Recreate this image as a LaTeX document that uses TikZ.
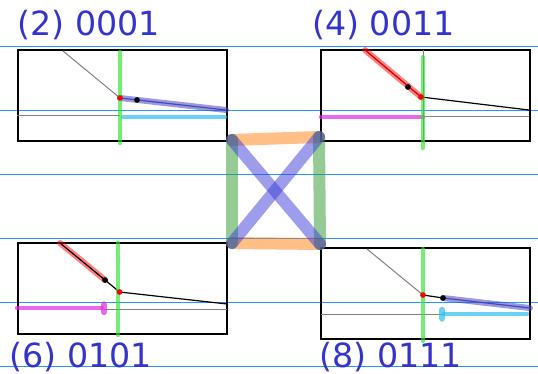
\documentclass[tikz,border=0pt]{standalone}
\usepackage{fontspec}
\setmainfont{DejaVu Sans}
\usetikzlibrary{positioning}

\definecolor{tagblue}{RGB}{52,52,204}
\definecolor{guideblue}{RGB}{40,150,255}
\definecolor{crossorange}{RGB}{255,127,14}
\definecolor{crossgreen}{RGB}{44,150,44}
\definecolor{crossblue}{RGB}{60,60,215}
\definecolor{barlime}{RGB}{40,230,40}
\definecolor{skycyan}{RGB}{40,190,240}
\definecolor{pinkmag}{RGB}{225,40,225}
\definecolor{slateline}{RGB}{70,70,190}

\begin{document}
\begin{tikzpicture}[
    x=1pt, y=-1pt,
    every node/.style = {font=\fontsize{33.3}{37}\selectfont},
    panel/.style   = {rectangle, draw, line width=2pt, inner sep=0pt,
                      minimum width=209pt, minimum height=91pt},
    tag/.style     = {text=tagblue, anchor=base west, inner sep=0pt},
    guide/.style   = {guideblue, line width=0.9pt},
    link/.style    = {line width=12pt, line cap=round, draw opacity=0.5},
    thinline/.style = {gray, line width=1pt},
    darkline/.style = {black, line width=1.2pt},
    gbar/.style    = {barlime, line width=4.5pt, line cap=round, draw opacity=0.65},
    cyanbar/.style = {skycyan, line width=4.5pt, line cap=round, draw opacity=0.7},
    magbar/.style  = {pinkmag, line width=4.5pt, line cap=round, draw opacity=0.7},
    endtick/.style = {line width=6.5pt, line cap=round, draw opacity=0.7},
    redhi/.style   = {red, line width=6pt, line cap=round, draw opacity=0.5},
    bluehi/.style  = {slateline, line width=6pt, line cap=round, draw opacity=0.55},
    reddot/.style  = {circle, fill=red, inner sep=0pt, minimum size=5.5pt},
    blackdot/.style = {circle, fill=black, inner sep=0pt, minimum size=5.5pt}
  ]
  \useasboundingbox (0,0) rectangle (538,374);

  % guide lines
  \foreach \gy in {46,110,174,238,302,366}
    \draw[guide] (0,\gy) -- (538,\gy);

  % panels
  \node[panel] (p2) at (122,95.5) {};
  \node[panel] (p4) at (425,95.5) {};
  \node[panel] (p6) at (122,288.5) {};
  \node[panel] (p8) at (425.5,293) {};

  \node[tag] (t2) at (17.5,36) {(2) 0001};
  \node[tag] (t4) at (312,36) {(4) 0011};
  \node[tag] (t6) at (9.5,367) {(6) 0101};
  \node[tag] (t8) at (319.5,367) {(8) 0111};

  % panel (2)
  \node[reddot] (r2) at (120,98) {};
  \node[blackdot] (k2) at (137,100) {};
  \coordinate (e2) at (226,110);
  \draw[thinline] (63,51) -- (r2.center);
  \draw[thinline] (17,116) -- (120,116);
  \draw[cyanbar] (123,117) -- (225,117);
  \draw[bluehi] (r2.center) -- (e2);
  \draw[slateline, line width=1.2pt] (r2.center) -- (e2);
  \draw[gbar] (120,52) -- (120,143);
  \node[reddot] at (r2) {};
  \node[blackdot] at (k2) {};

  % panel (4)
  \node[reddot] (r4) at (421,97) {};
  \node[blackdot] (k4) at (408,87) {};
  \coordinate (s4) at (365,50);
  \draw[thinline] (423,50) -- (423,141);
  \draw[redhi] (s4) -- (r4.center);
  \draw[red!80!black, line width=1.2pt] (s4) -- (r4.center);
  \draw[darkline] (r4.center) -- (529,110);
  \draw[thinline] (423,117) -- (529,117);
  \draw[magbar] (321,117) -- (423,117);
  \draw[gbar] (423,57) -- (423,148);
  \node[blackdot] at (k4) {};
  \node[reddot] at (r4) {};

  % panel (6)
  \node[reddot] (r6) at (119.5,292) {};
  \node[blackdot] (k6) at (105,280) {};
  \coordinate (s6) at (60,243);
  \draw[redhi] (s6) -- (k6.center);
  \draw[darkline] (s6) -- (k6.center) -- (r6.center) -- (227,304);
  \draw[thinline] (104,309) -- (227,309);
  \draw[magbar] (17,308) -- (102,308);
  \draw[endtick, pinkmag] (104,304.5) -- (104,312);
  \draw[gbar] (118,243) -- (118,335);
  \node[blackdot] at (k6) {};
  \node[reddot] at (r6) {};

  % panel (8)
  \node[reddot] (r8) at (423,295) {};
  \node[blackdot] (k8) at (443,298) {};
  \coordinate (e8) at (530,308);
  \draw[thinline] (367,249) -- (r8.center);
  \draw[darkline] (r8.center) -- (k8.center);
  \draw[bluehi] (k8.center) -- (e8);
  \draw[slateline, line width=1.2pt] (k8.center) -- (e8);
  \draw[thinline] (321,314) -- (442,314);
  \draw[cyanbar] (444,314) -- (527,314);
  \draw[endtick, skycyan] (442,310) -- (442,318.5);
  \draw[gbar] (423,249) -- (423,341);
  \node[reddot] at (r8) {};
  \node[blackdot] at (k8) {};

  % links between panels
  \coordinate (ca) at (232,140);
  \coordinate (cb) at (319,137);
  \coordinate (cc) at (232,243);
  \coordinate (cd) at (320,244);
  \draw[link, crossorange] (ca) -- (cb);
  \draw[link, crossorange] (cc) -- (cd);
  \draw[link, crossgreen] (ca) -- (cc);
  \draw[link, crossgreen] (cb) -- (cd);
  \draw[link, crossblue] (ca) -- (cd);
  \draw[link, crossblue] (cb) -- (cc);

\end{tikzpicture}
\end{document}
